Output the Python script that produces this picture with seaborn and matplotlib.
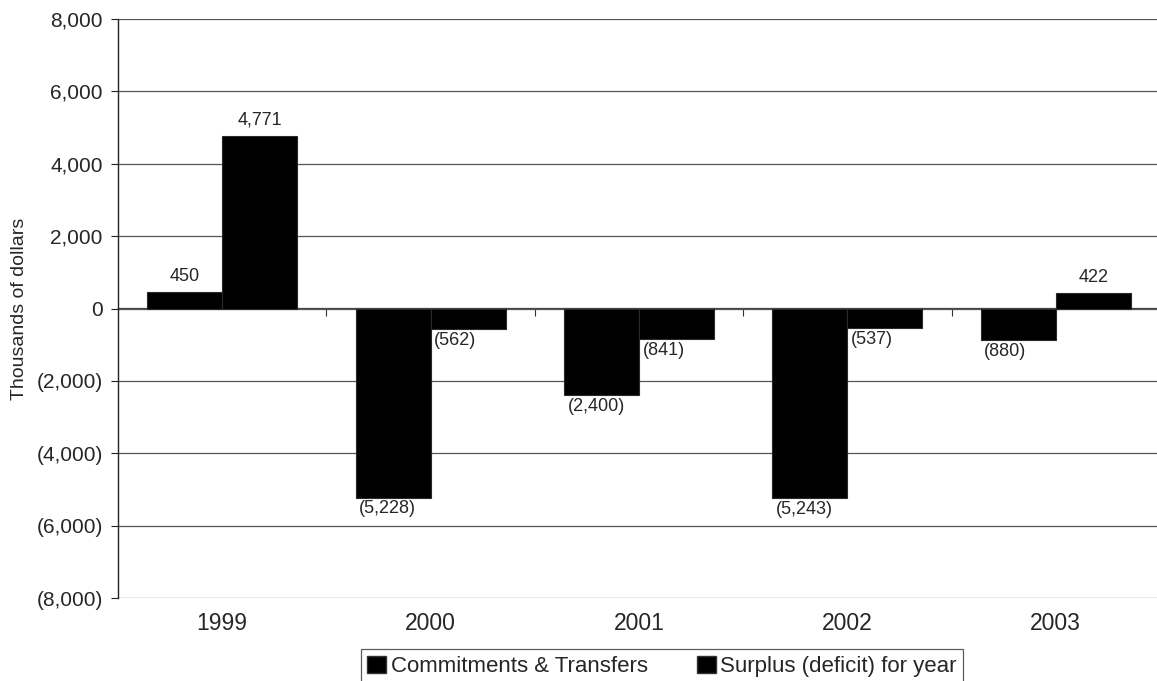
import matplotlib
matplotlib.use("Agg")
import matplotlib.pyplot as plt
from matplotlib.patches import Patch
from matplotlib.ticker import FuncFormatter
import seaborn as sns
import pandas as pd

years = ["1999", "2000", "2001", "2002", "2003"]
series_names = ["Commitments & Transfers", "Surplus (deficit) for year"]
commitments = [450, -5228, -2400, -5243, -880]
surplus = [4771, -562, -841, -537, 422]
y_ticks = [-8000, -6000, -4000, -2000, 0, 2000, 4000, 6000, 8000]

sns.set_style("white")
plt.rcParams["font.family"] = ["Liberation Sans", "DejaVu Sans"]

df = pd.DataFrame({
    "year": years * 2,
    "value": commitments + surplus,
    "series": [series_names[0]] * len(years) + [series_names[1]] * len(years),
})


def fmt(v):
    if v == 0:
        return "0"
    if v > 0:
        return f"{v:,.0f}"
    return f"({-v:,.0f})"


W, H = 1157, 681
fig = plt.figure(figsize=(W / 100, H / 100), dpi=100)
ax = fig.add_axes([118 / W, 1 - 598 / H, (1160 - 118) / W, (598 - 19) / H])

sns.barplot(data=df, x="year", y="value", hue="series", order=years,
            hue_order=series_names, palette=["black", "black"], width=0.72,
            edgecolor="#2a2a2a", linewidth=0.8, errorbar=None, legend=False,
            ax=ax)

ax.set_ylim(-8000, 8000)
ax.set_xlim(-0.5, 4.5)
ax.set_yticks(y_ticks)
ax.yaxis.set_major_formatter(FuncFormatter(lambda v, p: fmt(v)))
ax.yaxis.grid(True, color="#555555", linewidth=0.9)
ax.set_axisbelow(True)
for s in ["top", "right", "bottom"]:
    ax.spines[s].set_visible(False)
ax.spines["left"].set_color("#222222")
ax.spines["left"].set_linewidth(1.0)
ax.tick_params(axis="y", which="major", direction="out", length=5, width=0.8,
               color="#222222", labelsize=15, pad=6, left=True)
ax.tick_params(axis="x", length=0, labelsize=16.5, pad=10)
ax.set_xlabel("")
ax.set_ylabel("Thousands of dollars", fontsize=14)
ax.yaxis.set_label_coords((20 - 118) / (1160 - 118), 0.5)
ax.yaxis.label.set_va("center")

# zero line with category-boundary ticks
sec = ax.secondary_xaxis(0.5)
sec.set_xticks([0.5, 1.5, 2.5, 3.5])
sec.set_xticklabels([])
sec.tick_params(direction="in", length=6, width=0.8, color="#333333")
sec.spines["top"].set_color("#444444")
sec.spines["top"].set_linewidth(0.9)

# value labels
for cont, vals in zip(ax.containers, [commitments, surplus]):
    for bar, v in zip(cont, vals):
        if v >= 0:
            ax.annotate(fmt(v), xy=(bar.get_x() + bar.get_width() / 2, v),
                        xytext=(0, 5), textcoords="offset points",
                        ha="center", va="bottom", fontsize=13)
        else:
            ax.annotate(fmt(v), xy=(bar.get_x(), v),
                        xytext=(2.5, -2), textcoords="offset points",
                        ha="left", va="top", fontsize=13)

handles = [Patch(facecolor="black", edgecolor="#333333") for _ in series_names]
leg = fig.legend(handles, series_names, loc="upper center",
                 bbox_to_anchor=(662 / W, 1 - 649 / H), ncol=2, frameon=True,
                 fancybox=False, edgecolor="#333333", fontsize=16,
                 handlelength=0.85, handleheight=0.85, handletextpad=0.2,
                 columnspacing=2.2, borderpad=0.3, borderaxespad=0)
leg.get_frame().set_linewidth(0.9)

fig.savefig("out.png", dpi=100)
